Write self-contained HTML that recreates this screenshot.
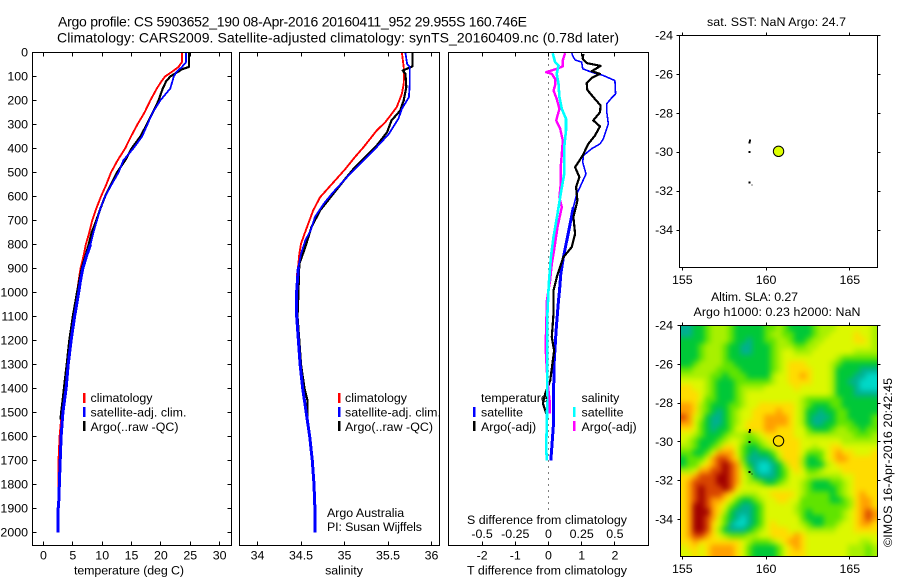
<!DOCTYPE html>
<html lang="en">
<head>
<meta charset="utf-8">
<title>Argo profile CS 5903652_190</title>
<style>
html,body{margin:0;padding:0;background:#fff;width:900px;height:580px;overflow:hidden}
svg{display:block}
text{font-family:"Liberation Sans",Arial,sans-serif;font-size:12.4px;fill:#000}
.frame{fill:none;stroke:#000;stroke-width:1;shape-rendering:crispEdges}
.tt{font-size:14px}
.mk{shape-rendering:crispEdges}
</style>
</head>
<body>
<svg id="chart" xmlns="http://www.w3.org/2000/svg" width="900" height="580" viewBox="0 0 900 580">
  <defs>
    <clipPath id="map-clip"><rect x="680.5" y="325.5" width="197" height="231"/></clipPath>
    <filter id="smooth" x="-5%" y="-5%" width="110%" height="110%" color-interpolation-filters="sRGB"><feGaussianBlur stdDeviation="2.8"/></filter>
  </defs>

  <text class="tt" x="58" y="26.7" textLength="469">Argo profile: CS 5903652_190 08-Apr-2016 20160411_952 29.955S 160.746E</text>
  <text class="tt" x="57" y="42.5" textLength="562">Climatology: CARS2009. Satellite-adjusted climatology: synTS_20160409.nc (0.78d later)</text>

  <g id="p1"></g>
  <g id="p2"></g>
  <g id="p3"></g>
  <g id="m1"></g>
  <g id="m2"></g>

  <rect class="frame" x="32.5" y="52.5" width="199" height="493"/>
  <rect class="frame" x="239.5" y="52.5" width="200" height="493"/>
  <rect class="frame" x="448.5" y="52.5" width="200" height="493"/>
  <rect class="frame" x="679.5" y="35.5" width="198" height="232"/>
  <rect class="frame" x="680.5" y="325.5" width="197" height="231"/>

  <text x="129" y="574.5" text-anchor="middle" textLength="110">temperature (deg C)</text>
  <text x="344" y="574.5" text-anchor="middle">salinity</text>
  <text x="547" y="574.5" text-anchor="middle" textLength="160">T difference from climatology</text>
  <text x="547" y="524" text-anchor="middle" textLength="160">S difference from climatology</text>

  <g>
    <rect class="mk" x="83" y="393" width="2.5" height="10" fill="#f00"/>
    <text x="90.5" y="402">climatology</text>
    <rect class="mk" x="83" y="407" width="2.5" height="10" fill="#00f"/>
    <text x="90.5" y="416.5" textLength="96">satellite-adj. clim.</text>
    <rect class="mk" x="83" y="421" width="2.5" height="10" fill="#000"/>
    <text x="90.5" y="431" textLength="88">Argo(..raw -QC)</text>
  </g>
  <g>
    <rect class="mk" x="338" y="393" width="2.5" height="10" fill="#f00"/>
    <text x="345" y="402">climatology</text>
    <rect class="mk" x="338" y="407" width="2.5" height="10" fill="#00f"/>
    <text x="345" y="416.5" textLength="96">satellite-adj. clim.</text>
    <rect class="mk" x="338" y="421" width="2.5" height="10" fill="#000"/>
    <text x="345" y="431" textLength="88">Argo(..raw -QC)</text>
  </g>
  <text x="327" y="517">Argo Australia</text>
  <text x="327" y="531" textLength="95">PI: Susan Wijffels</text>

  <g>
    <text x="481" y="402">temperature</text>
    <rect class="mk" x="473" y="407" width="2.5" height="10" fill="#00f"/>
    <text x="481" y="416.5">satellite</text>
    <rect class="mk" x="473" y="421" width="2.5" height="10" fill="#000"/>
    <text x="481" y="431">Argo(-adj)</text>
    <text x="581.5" y="402">salinity</text>
    <rect class="mk" x="573" y="407" width="2.5" height="10" fill="#0ff"/>
    <text x="581.5" y="416.5">satellite</text>
    <rect class="mk" x="573" y="421" width="2.5" height="10" fill="#f0f"/>
    <text x="581.5" y="431">Argo(-adj)</text>
  </g>

  <text x="776.5" y="26" text-anchor="middle" textLength="139">sat. SST: NaN Argo: 24.7</text>
  <text x="711" y="301" textLength="87">Altim. SLA: 0.27</text>
  <text x="693.5" y="316" textLength="167">Argo h1000: 0.23 h2000: NaN</text>
  <text transform="translate(892 547) rotate(-90)" textLength="169">©IMOS 16-Apr-2016 20:42:45</text>
</svg>

<script>
// ---- depth axis
const depthTicks = [0,100,200,300,400,500,600,700,800,900,1000,1100,1200,1300,1400,1500,1600,1700,1800,1900,2000];

// ---- temperature panel
const tempTicks = [0,5,10,15,20,25,30];
const tempClimDepth = [0,40,60,80,100,120,150,200,250,300,350,400,450,500,550,600,650,700,750,800,850,900,950,1000,1100,1200,1300,1400,1500,1530,1600,1700,1800,1900,2000];
const tempClimValue = [23.6,23.6,23.0,21.9,20.7,20.1,19.3,18.2,17.2,16.0,14.9,13.9,12.6,11.5,10.7,9.8,9.0,8.3,7.8,7.2,6.8,6.3,6.0,5.7,5.0,4.4,3.95,3.5,3.1,3.0,2.75,2.55,2.55,2.5,2.45];
const tempSatDepth = [0,40,60,80,100,150,200,250,300,350,400,450,500,550,600,650,700,750,800,850,900,950,1000,1100,1200,1300,1400,1500,1600,1700,1800,1850,1900,2000];
const tempSatValue = [24.3,24.3,23.6,22.7,22.2,21.6,19.9,18.6,17.7,16.8,15.3,13.6,12.8,11.6,10.5,9.7,9.1,8.5,8.0,7.3,6.7,6.3,6.0,5.3,4.7,4.2,3.85,3.3,3.0,2.85,2.7,2.65,2.5,2.45];
const tempArgoDepth = [0,60,70,100,120,150,200,250,300,350,400,450,500,550,600,650,700,750,800,850,900,950,1000,1100,1200,1300,1400,1450,1500,1530];
const tempArgoValue = [24.8,24.8,23.6,21.6,20.9,20.3,19.6,18.6,17.6,16.5,15.0,13.9,12.5,11.5,10.5,9.7,9.0,8.2,7.7,7.1,6.5,6.1,5.7,5.0,4.4,3.95,3.47,3.25,3.0,2.9];

// ---- salinity panel
const salTicks = [34,34.5,35,35.5,36];
const salClimDepth = [0,61,130,172,228,290,325,394,436,485,526,554,603,658,707,756,797,839,881,936,1000,1100,1200,1300,1400,1500,1600,1700,1800,1900,2000];
const salClimValue = [35.66,35.68,35.68,35.66,35.60,35.47,35.37,35.22,35.12,35.01,34.91,34.84,34.72,34.64,34.59,34.54,34.50,34.48,34.47,34.45,34.45,34.45,34.47,34.49,34.52,34.56,34.60,34.63,34.65,34.66,34.66];
const salSatDepth = [0,47,61,130,186,235,276,339,394,450,519,582,631,686,742,783,839,894,992,1100,1200,1300,1400,1500,1600,1700,1800,1900,2000];
const salSatValue = [35.70,35.72,35.75,35.75,35.74,35.66,35.62,35.51,35.37,35.22,35.03,34.87,34.76,34.66,34.61,34.55,34.50,34.47,34.45,34.45,34.47,34.49,34.52,34.56,34.60,34.63,34.65,34.66,34.66];
const salArgoDepth = [0,47,58,75,89,144,200,242,283,332,388,436,478,526,589,658,728,811,881,1006,1100,1200,1300,1400,1450,1530];
const salArgoValue = [35.78,35.78,35.78,35.67,35.70,35.71,35.68,35.64,35.54,35.49,35.37,35.24,35.12,35.01,34.87,34.72,34.62,34.55,34.48,34.47,34.46,34.48,34.50,34.54,34.575,34.575];

// ---- difference panel
const tDiffTicks = [-2,-1,0,1,2];
const sDiffTicks = [-0.5,-0.25,0,0.25,0.5];
const sDiffTickLabels = ['-0.5','-0.25','0','0.25','0.5'];
const tSatDepth = [3,19,31,40,68,82,96,117,172,189,214,242,297,360,381,401,429,457,506,561,589,644,714,783,853,922,992,1033,1158,1296,1437,1546,1645,1700];
const tSatValue = [0.70,0.75,0.80,1.00,1.03,1.30,1.65,2.00,2.02,1.90,1.75,1.75,1.80,1.65,1.55,1.30,1.05,1.03,1.13,0.95,0.85,0.75,0.65,0.55,0.45,0.37,0.33,0.30,0.23,0.17,0.15,0.15,0.10,0.07];
const tArgoDepth = [6,26,44,56,78,89,106,128,156,186,221,249,283,308,346,381,429,478,519,561,617,686,756,811,853,936,992,1088,1186,1242,1367,1421,1463,1504];
const tArgoValue = [1.05,1.03,1.15,1.57,1.30,1.55,1.30,1.15,1.17,1.35,1.57,1.55,1.35,1.55,1.40,1.20,1.03,0.80,0.93,0.83,0.87,0.75,0.80,0.70,0.45,0.25,0.15,0.15,0.10,0.17,0.05,-0.10,-0.17,-0.07];
const sSatDepth = [3,40,54,89,130,186,235,276,325,394,506,589,672,769,853,964,1088,1367,1546,1645,1700];
const sSatValue = [0.032,0.05,0.075,0.062,0.075,0.082,0.10,0.132,0.132,0.118,0.118,0.092,0.068,0.038,0.018,0.002,-0.008,-0.008,-0.012,-0.018,-0.012];
const sArgoDepth = [3,33,58,68,82,89,110,137,158,193,235,283,318,367,422,478,547,603,644,728,797,881,950,1033,1229,1367,1450,1504];
const sArgoValue = [0.125,0.108,0.108,0.062,-0.018,0.025,0.05,0.05,0.038,0.062,0.082,0.058,0.088,0.108,0.10,0.092,0.092,0.082,0.10,0.068,0.05,0.025,0.012,-0.012,-0.022,-0.008,0.008,0.008];

// ---- maps
const lonTicks = [155,160,165];
const latTicks = [-24,-26,-28,-30,-32,-34];
const coastLon = [159.05,159.0,159.0,159.0,159.2];
const coastLat = [-29.4,-29.5,-30.0,-31.55,-31.7];
const argoLon = [160.746];
const argoLat = [-29.955];
// SLA levels on a 0 (most negative) .. 9 (most positive) scale, north to south
const slaLevels = [
[1,1,2,2,3,4,4,4,3,2,2,2,2,2,3,3,4,3,2,2,2,2,3,4,4,4,5,5,5,5,5,5,4],
[1,1,2,2,3,4,4,4,3,2,2,2,2,2,3,4,4,3,3,2,2,2,3,4,4,5,5,5,5,6,5,5,4],
[2,2,2,2,3,4,4,4,3,2,2,1,2,2,3,3,4,4,3,2,2,3,4,4,5,5,5,5,5,6,6,5,4],
[2,2,2,3,4,4,4,3,2,2,1,1,2,2,2,3,4,4,4,3,3,4,4,5,5,5,5,5,5,5,5,5,4],
[2,2,2,3,4,4,4,3,2,2,1,1,2,2,2,3,4,5,5,4,4,4,5,5,5,5,5,5,5,4,4,4,4],
[2,2,2,3,4,4,4,3,2,2,2,2,2,2,2,3,4,5,5,5,5,5,5,5,5,5,4,3,3,3,3,3,3],
[2,2,3,4,4,4,4,3,3,2,2,2,2,2,2,3,4,5,6,6,6,5,5,5,5,4,3,2,2,2,2,2,2],
[3,3,4,4,4,4,3,3,3,3,2,2,2,2,2,3,4,5,6,6,6,6,5,5,5,4,2,2,2,2,1,1,1],
[4,4,4,4,4,3,3,2,3,3,3,2,2,2,2,4,5,5,6,6,7,6,5,5,5,4,2,2,2,1,1,0,0],
[5,5,5,5,4,3,2,2,2,3,3,3,3,3,3,4,5,5,6,6,6,6,5,5,5,4,2,2,1,1,0,0,0],
[6,6,5,5,4,3,2,2,2,3,4,4,4,4,5,5,5,5,5,6,5,5,5,5,5,4,2,2,2,1,0,0,0],
[6,6,6,5,4,3,2,2,2,3,4,5,5,5,5,5,5,5,5,5,5,5,5,5,5,4,2,2,2,1,1,1,1],
[6,6,6,5,3,3,2,2,2,3,4,5,5,5,5,5,5,5,5,5,4,3,3,3,3,3,3,2,2,2,2,2,2],
[7,7,6,4,3,2,2,2,3,3,4,5,5,6,6,6,6,6,6,5,4,3,2,2,2,3,3,2,2,2,2,2,2],
[7,7,6,4,3,2,1,2,3,4,5,5,6,6,6,6,7,6,6,5,4,2,2,1,2,2,3,3,2,2,2,2,2],
[8,7,5,4,2,1,1,2,3,4,5,5,6,6,7,7,7,7,6,5,4,2,1,1,1,2,3,3,2,2,2,2,3],
[7,7,5,3,2,1,1,2,3,4,5,6,6,6,7,7,7,7,6,5,4,2,1,1,2,2,3,3,3,2,2,2,3],
[6,6,5,3,2,1,2,2,3,5,5,6,6,6,7,7,6,6,6,5,5,3,2,2,2,3,4,4,3,3,2,3,3],
[5,5,4,3,2,2,2,3,4,4,4,3,4,5,6,6,6,6,6,5,5,4,4,4,4,4,4,4,4,3,3,3,4],
[5,4,3,2,2,2,3,4,5,5,4,3,3,4,5,6,6,6,6,6,5,5,5,5,5,5,5,4,4,4,4,4,4],
[4,4,3,2,2,3,4,6,6,5,3,2,2,3,4,5,6,6,6,6,5,5,4,5,5,6,6,5,5,5,5,5,5],
[3,3,2,2,3,5,7,7,7,5,3,2,1,2,2,3,5,6,6,6,5,3,3,3,5,6,7,6,6,5,5,5,6],
[2,3,3,3,5,7,8,8,7,6,3,1,1,1,1,2,4,6,6,6,4,2,2,3,5,6,7,7,6,6,6,6,6],
[2,3,3,5,6,7,8,9,8,7,4,2,1,0,0,1,2,4,6,6,4,2,2,2,4,5,6,6,6,6,6,6,6],
[4,4,5,7,7,8,8,9,8,7,5,3,1,0,0,1,2,3,5,6,5,3,3,4,5,5,5,6,6,6,6,6,6],
[6,6,7,8,8,8,9,9,8,7,5,4,2,1,1,1,2,3,5,5,5,4,4,4,4,4,4,5,5,6,6,6,6],
[6,7,8,8,8,8,9,9,8,7,5,4,4,3,2,2,3,4,5,5,4,3,2,2,2,3,3,4,5,6,6,6,6],
[6,7,8,9,8,8,8,9,8,6,5,5,5,5,5,5,5,5,5,5,4,3,2,2,2,2,3,4,5,6,6,6,6],
[6,7,8,9,8,8,8,7,6,5,4,4,4,5,5,6,6,6,6,5,4,3,3,3,3,2,3,4,5,6,7,6,6],
[6,7,8,9,8,7,7,6,5,3,2,2,3,4,5,5,6,6,5,5,3,3,3,3,3,2,2,3,4,6,7,7,6],
[6,7,9,9,8,7,6,5,3,2,1,1,2,3,5,5,5,5,5,4,3,3,3,3,3,3,3,3,4,6,7,7,6],
[6,7,9,9,9,7,6,4,2,1,1,1,2,3,5,5,5,5,5,4,3,2,3,3,3,3,3,4,5,6,7,8,7],
[6,7,9,9,8,7,5,3,2,1,0,1,2,3,5,5,5,5,5,5,3,2,2,2,3,3,3,4,5,6,7,8,7],
[6,7,9,9,8,6,5,3,1,0,0,1,2,3,5,6,5,5,5,5,4,3,2,2,3,3,4,5,5,6,7,7,6],
[6,7,9,9,8,6,4,2,1,1,1,2,3,4,5,6,6,6,5,5,5,4,4,4,4,4,5,5,5,6,6,6,6],
[6,7,8,8,7,6,5,4,3,3,3,4,4,5,5,6,6,6,6,7,6,5,5,5,5,5,5,5,5,5,5,5,5],
[6,6,7,6,6,6,6,6,6,6,5,4,3,3,3,4,5,6,7,7,6,5,5,5,5,5,5,5,5,5,4,4,5],
[5,6,6,5,6,7,7,7,7,6,5,3,2,2,2,2,3,5,6,7,6,5,5,5,5,5,5,5,4,4,4,3,4],
[5,5,6,5,6,7,7,7,7,6,5,3,2,2,2,2,3,5,6,6,6,5,5,5,5,5,5,5,4,4,4,3,4]
];
const slaPalette = ['#00d8c8','#00b090','#00c838','#60e400','#a8f000','#dcf800','#ffdc00','#ffa000','#d84400','#a00000'];

// ---- axis functions
const depthY = d => 52.5 + d * 0.24;
const tempX = v => 43.5 + v * 5.87;
const salX = v => 257.5 + (v - 34) * 87;
const tDiffX = v => 548.5 + v * 33.2;
const sDiffX = v => 548.5 + v * 132.8;
const lonX = v => 682.3 + (v - 155) * 16.75;
const lat1Y = v => 35.5 + (-24 - v) * 19.45;
const lat2Y = v => 325.5 + (-24 - v) * 19.38;

const NS = 'http://www.w3.org/2000/svg';
function svgEl(tag, parent) {
  const el = document.createElementNS(NS, tag);
  parent.appendChild(el);
  return el;
}
function tick(parent, x1, y1, x2, y2) {
  const el = svgEl('line', parent);
  
  
  el.setAttribute('x1', Math.round(x1 - 0.5) + 0.5);
  el.setAttribute('x2', Math.round(x2 - 0.5) + 0.5);
  el.setAttribute('y1', Math.round(y1 - 0.5) + 0.5);
  el.setAttribute('y2', Math.round(y2 - 0.5) + 0.5);
  el.setAttribute('stroke', '#000');
  el.setAttribute('shape-rendering', 'crispEdges');
}
function label(parent, x, y, anchor, str) {
  const el = svgEl('text', parent);
  
  
  el.setAttribute('x', x);
  el.setAttribute('y', y);
  el.setAttribute('text-anchor', anchor);
  el.textContent = str;
}
function series(parent, depths, values, xFn, colour, width, fromDepth) {
  const el = svgEl('path', parent);
  const pts = [];
  depths.forEach((d, i) => {
    if (d < fromDepth) return;
    pts.push((pts.length ? 'L' : 'M') + xFn(values[i]).toFixed(1) + ' ' + depthY(d).toFixed(1));
  });
  el.setAttribute('d', pts.join(''));
  el.setAttribute('fill', 'none');
  el.setAttribute('stroke', colour);
  el.setAttribute('stroke-width', width);
  el.setAttribute('stroke-linejoin', 'round');
  el.setAttribute('shape-rendering', 'crispEdges');
  return el;
}

const p1 = document.getElementById('p1');
const p2 = document.getElementById('p2');
const p3 = document.getElementById('p3');
const m1 = document.getElementById('m1');
const m2 = document.getElementById('m2');

// temperature panel axes and series
depthTicks.forEach(d => {
  const y = depthY(d);
  tick(p1, 32, y, 36, y);
  tick(p1, 231, y, 227, y);
  label(p1, 28, y + 4, 'end', String(d));
});
tempTicks.forEach(v => {
  const x = tempX(v);
  tick(p1, x, 52, x, 56);
  tick(p1, x, 545, x, 541);
  label(p1, x, 559.5, 'middle', String(v));
});
const tc = series(p1, tempClimDepth, tempClimValue, tempX, '#f00', 1.9, 0);


const ta = series(p1, tempArgoDepth, tempArgoValue, tempX, '#000', 2.2, 0);


const ts = series(p1, tempSatDepth, tempSatValue, tempX, '#00f', 1.8, 0);


const tsDeep = series(p1, tempSatDepth, tempSatValue, tempX, '#00f', 3, 800);



// salinity panel axes and series
salTicks.forEach(v => {
  const x = salX(v);
  tick(p2, x, 52, x, 56);
  tick(p2, x, 545, x, 541);
  label(p2, x, 559.5, 'middle', String(v));
});
const sc = series(p2, salClimDepth, salClimValue, salX, '#f00', 1.9, 0);


const sa = series(p2, salArgoDepth, salArgoValue, salX, '#000', 2.2, 0);


const ss = series(p2, salSatDepth, salSatValue, salX, '#00f', 1.8, 0);


const ssDeep = series(p2, salSatDepth, salSatValue, salX, '#00f', 3, 850);



// difference panel axes and series
tDiffTicks.forEach(v => {
  const x = tDiffX(v);
  tick(p3, x, 52, x, 56);
  tick(p3, x, 545, x, 541);
  label(p3, x, 559.5, 'middle', String(v));
});
sDiffTicks.forEach((v, i) => {
  label(p3, sDiffX(v), 538, 'middle', sDiffTickLabels[i]);
});
const zeroLine = svgEl('line', p3);


zeroLine.setAttribute('x1', tDiffX(0));
zeroLine.setAttribute('x2', tDiffX(0));
zeroLine.setAttribute('y1', depthY(0));
zeroLine.setAttribute('y2', 512);
zeroLine.setAttribute('stroke', '#000');
zeroLine.setAttribute('stroke-dasharray', '1 5');
zeroLine.setAttribute('shape-rendering', 'crispEdges');
const dTs = series(p3, tSatDepth, tSatValue, tDiffX, '#00f', 1.6, 0);


const dTsDeep = series(p3, tSatDepth, tSatValue, tDiffX, '#00f', 3, 640);


const dTa = series(p3, tArgoDepth, tArgoValue, tDiffX, '#000', 2.2, 0);


const dSa = series(p3, sArgoDepth, sArgoValue, sDiffX, '#f0f', 2.4, 0);


const dSs = series(p3, sSatDepth, sSatValue, sDiffX, '#0ff', 2.6, 0);



// map axes
function mapAxes(parent, latY, left, right, top, bottom, tickBaseline) {
  lonTicks.forEach(v => {
    const x = lonX(v);
    tick(parent, x, top, x, top - 3);
    tick(parent, x, bottom, x, bottom + 3);
    label(parent, x, tickBaseline, 'middle', String(v));
  });
  latTicks.forEach(v => {
    const y = latY(v);
    tick(parent, left, y, left - 3, y);
    tick(parent, right, y, right + 3, y);
    label(parent, 673, y + 4, 'end', String(v));
  });
}
function coast(parent, latY) {
  coastLon.forEach((lon, i) => {
    const el = svgEl('rect', parent);
    
    
    el.setAttribute('x', lonX(lon) - 1);
    el.setAttribute('y', latY(coastLat[i]) - 1);
    el.setAttribute('width', i === 4 ? 1 : 2);
    el.setAttribute('height', i === 4 ? 1 : 2);
    el.setAttribute('fill', '#000');
    el.setAttribute('shape-rendering', 'crispEdges');
  });
}
function argoMarker(parent, latY, fill) {
  argoLon.forEach((lon, i) => {
    const el = svgEl('circle', parent);
    
    
    el.setAttribute('cx', lonX(lon));
    el.setAttribute('cy', latY(argoLat[i]));
    el.setAttribute('r', 5.2);
    el.setAttribute('fill', fill);
    el.setAttribute('stroke', '#000');
    el.setAttribute('stroke-width', 1);
  });
}

// SLA heatmap: one rect per grid cell, coloured from slaLevels
const heatClip = svgEl('g', m2);


heatClip.setAttribute('clip-path', 'url(#map-clip)');
const heat = svgEl('g', heatClip);


heat.setAttribute('filter', 'url(#smooth)');
const nRows = slaLevels.length;
const nCols = slaLevels[0].length;
const cellW = 197 / nCols;
const cellH = 231 / nRows;
slaLevels.forEach((row, r) => {
  row.forEach((level, c) => {
    const cell = svgEl('rect', heat);
    
    
    const padL = c === 0 ? 10 : 0;
    const padR = c === nCols - 1 ? 10 : 0;
    const padT = r === 0 ? 10 : 0;
    const padB = r === nRows - 1 ? 10 : 0;
    cell.setAttribute('x', 680.5 + c * cellW - padL);
    cell.setAttribute('y', 325.5 + r * cellH - padT);
    cell.setAttribute('width', cellW + padL + padR + 0.4);
    cell.setAttribute('height', cellH + padT + padB + 0.4);
    cell.setAttribute('fill', slaPalette[level]);
  });
});

mapAxes(m1, lat1Y, 679.5, 877.5, 35.5, 267.5, 284);
coast(m1, lat1Y);
argoMarker(m1, lat1Y, '#ddff00');

mapAxes(m2, lat2Y, 680.5, 877.5, 325.5, 556.5, 573);
coast(m2, lat2Y);
argoMarker(m2, lat2Y, 'none');
</script>
</body>
</html>
